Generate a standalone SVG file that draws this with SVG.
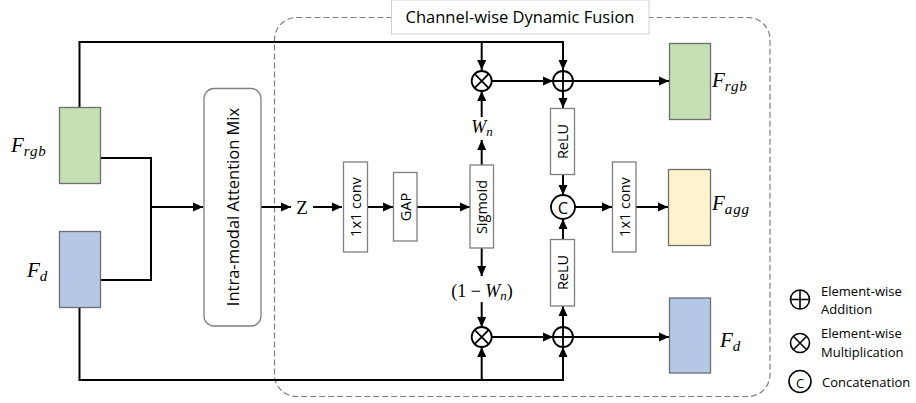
<svg xmlns="http://www.w3.org/2000/svg" width="916" height="403" viewBox="0 0 916 403">
<defs>
<marker id="ah" markerUnits="userSpaceOnUse" markerWidth="12" markerHeight="12" viewBox="0 0 12 12" refX="11" refY="6" orient="auto">
<path d="M1,1.5 L11,6 L1,10.5 Z" fill="#000"/>
</marker>
</defs>
<style>
.ln{fill:none;stroke:#000;stroke-width:2}
.ar{fill:none;stroke:#000;stroke-width:2;marker-end:url(#ah)}
.box{fill:#fff;stroke:#7f7f7f;stroke-width:1.3}
.feat{stroke:#6e6e6e;stroke-width:1.3}
.lbl{font-family:"Open Sans","DejaVu Sans",sans-serif;font-size:14.5px;fill:#000}
.leg{font-family:"Open Sans","DejaVu Sans",sans-serif;font-size:13px;fill:#000}
.big{font-family:"Open Sans","DejaVu Sans",sans-serif;font-size:16.5px;fill:#000}
.math{font-family:"Liberation Serif","DejaVu Serif",serif;font-style:italic;fill:#000}
.sub{font-size:15px;letter-spacing:0.8px}
.mathr{font-family:"Liberation Serif","DejaVu Serif",serif;fill:#000}
.op{fill:#fff;stroke:#000;stroke-width:1.8}
.opl{stroke:#000;stroke-width:1.8}
</style>
<rect id="fusion-region" x="274.5" y="17.5" width="495.5" height="379" rx="22" fill="none" stroke="#7f7f7f" stroke-width="1.2" stroke-dasharray="6,3"/>
<g id="title">
<rect x="391.5" y="0" width="257.5" height="34" fill="#fff" stroke="#d0d0d0" stroke-width="1"/>
<text class="big" x="520" y="23" text-anchor="middle">Channel-wise Dynamic Fusion</text>
</g>
<g id="connectors">
<path class="ar" d="M79.5,107 V42 H563 V70"/>
<path class="ar" d="M481.7,42 V70"/>
<path class="ln" d="M100,158 H151 V280 H101"/>
<path class="ar" d="M151,207 H203"/>
<path class="ar" d="M261,207 H291"/>
<path class="ar" d="M313,207 H342"/>
<path class="ar" d="M367,207 H393"/>
<path class="ar" d="M417,207 H470"/>
<path class="ar" d="M481.7,165 V140"/>
<path class="ar" d="M481.7,117 V91"/>
<path class="ar" d="M491.7,81 H553"/>
<path class="ar" d="M573,81 H669"/>
<path class="ar" d="M563,91 V108"/>
<path class="ar" d="M563,174 V195"/>
<path class="ar" d="M575,207 H612"/>
<path class="ar" d="M636,207 H668"/>
<path class="ar" d="M563,239 V219"/>
<path class="ar" d="M563,327 V306"/>
<path class="ar" d="M481.7,248 V276"/>
<path class="ar" d="M481.7,302 V327"/>
<path class="ar" d="M79.5,307 V380 H563 V347"/>
<path class="ar" d="M481.7,380 V347"/>
<path class="ar" d="M491.7,337 H553"/>
<path class="ar" d="M573,337 H669"/>
</g>
<g id="f-rgb-in">
<rect class="feat" x="59.5" y="107.5" width="41" height="76" fill="#c5e0b4"/>
<text class="math" x="11" y="152" font-size="21">F<tspan class="sub" dy="4">rgb</tspan></text>
</g>
<g id="f-d-in">
<rect class="feat" x="59.5" y="231.5" width="41" height="76" fill="#b4c7e7"/>
<text class="math" x="27" y="277" font-size="21">F<tspan class="sub" dy="4">d</tspan></text>
</g>
<g id="intra-mix">
<rect x="204" y="88.5" width="57" height="237.5" rx="10" fill="#fff" stroke="#7f7f7f" stroke-width="1.3"/>
<text class="big" transform="translate(239,207) rotate(-90)" text-anchor="middle" font-size="18.5">Intra-modal Attention Mix</text>
</g>
<g id="z">
<text class="mathr" x="302" y="214" font-size="19" text-anchor="middle">Z</text>
</g>
<g id="conv1">
<rect class="box" x="343.5" y="162" width="24" height="90"/>
<text class="lbl" transform="translate(360.5,207) rotate(-90)" text-anchor="middle">1x1 conv</text>
</g>
<g id="gap">
<rect class="box" x="393.5" y="172.5" width="23.5" height="68.5"/>
<text class="lbl" transform="translate(410.5,207) rotate(-90)" text-anchor="middle">GAP</text>
</g>
<g id="sigmoid">
<rect class="box" x="470" y="165" width="23.5" height="83"/>
<text class="lbl" transform="translate(487,207) rotate(-90)" text-anchor="middle">Sigmoid</text>
</g>
<g id="wn">
<text class="math" x="482" y="133" font-size="18" text-anchor="middle">W<tspan font-size="13" dy="3">n</tspan></text>
</g>
<g id="one-minus-wn">
<text class="mathr" x="482" y="297" font-size="18" text-anchor="middle">(1 − <tspan font-style="italic">W</tspan><tspan font-style="italic" font-size="13" dy="3">n</tspan><tspan dy="-3">)</tspan></text>
</g>
<g id="mul-top">
<circle class="op" cx="481.7" cy="81" r="10"/>
<path class="opl" d="M474.6,73.9 L488.8,88.1 M488.8,73.9 L474.6,88.1"/>
</g>
<g id="add-top">
<circle class="op" cx="563" cy="81" r="10"/>
<path class="opl" d="M553,81 H573 M563,71 V91"/>
</g>
<g id="relu-top">
<rect class="box" x="550.5" y="108.5" width="24" height="66"/>
<text class="lbl" transform="translate(567.5,141.5) rotate(-90)" text-anchor="middle" font-size="14">ReLU</text>
</g>
<g id="concat">
<circle class="op" cx="563" cy="207" r="12"/>
<text class="big" x="563" y="213.5" font-size="18" text-anchor="middle">C</text>
</g>
<g id="relu-bottom">
<rect class="box" x="550.5" y="239.5" width="24" height="66.5"/>
<text class="lbl" transform="translate(567.5,272.5) rotate(-90)" text-anchor="middle" font-size="14">ReLU</text>
</g>
<g id="conv2">
<rect class="box" x="612.5" y="162" width="23.5" height="90"/>
<text class="lbl" transform="translate(629.5,207) rotate(-90)" text-anchor="middle">1x1 conv</text>
</g>
<g id="mul-bottom">
<circle class="op" cx="481.7" cy="337" r="10"/>
<path class="opl" d="M474.6,329.9 L488.8,344.1 M488.8,329.9 L474.6,344.1"/>
</g>
<g id="add-bottom">
<circle class="op" cx="563" cy="337" r="10"/>
<path class="opl" d="M553,337 H573 M563,327 V347"/>
</g>
<g id="f-rgb-out">
<rect class="feat" x="669.5" y="43.5" width="41" height="76" fill="#c5e0b4"/>
<text class="math" x="712" y="87" font-size="21">F<tspan class="sub" dy="4">rgb</tspan></text>
</g>
<g id="f-agg-out">
<rect class="feat" x="668.5" y="169.5" width="42" height="76" fill="#fff2cc"/>
<text class="math" x="712" y="210" font-size="21">F<tspan class="sub" dy="4">agg</tspan></text>
</g>
<g id="f-d-out">
<rect class="feat" x="669.5" y="298" width="41" height="75" fill="#b4c7e7"/>
<text class="math" x="720" y="347" font-size="21">F<tspan class="sub" dy="4">d</tspan></text>
</g>
<g id="legend">
<circle cx="800" cy="299.5" r="9.5" fill="none" stroke="#000" stroke-width="1.6"/>
<path d="M790.5,299.5 H809.5 M800,290 V309" stroke="#000" stroke-width="1.6"/>
<text class="leg" x="821" y="296">Element-wise</text>
<text class="leg" x="821" y="313.5">Addition</text>
<circle cx="800" cy="343" r="9.5" fill="none" stroke="#000" stroke-width="1.6"/>
<path d="M793.3,336.3 L806.7,349.7 M806.7,336.3 L793.3,349.7" stroke="#000" stroke-width="1.6"/>
<text class="leg" x="821" y="338">Element-wise</text>
<text class="leg" x="821" y="356.5">Multiplication</text>
<circle cx="800" cy="381.5" r="11" fill="none" stroke="#000" stroke-width="1.6"/>
<text class="leg" x="800" y="388" font-size="17" text-anchor="middle">C</text>
<text class="leg" x="822" y="386.5">Concatenation</text>
</g>
</svg>
